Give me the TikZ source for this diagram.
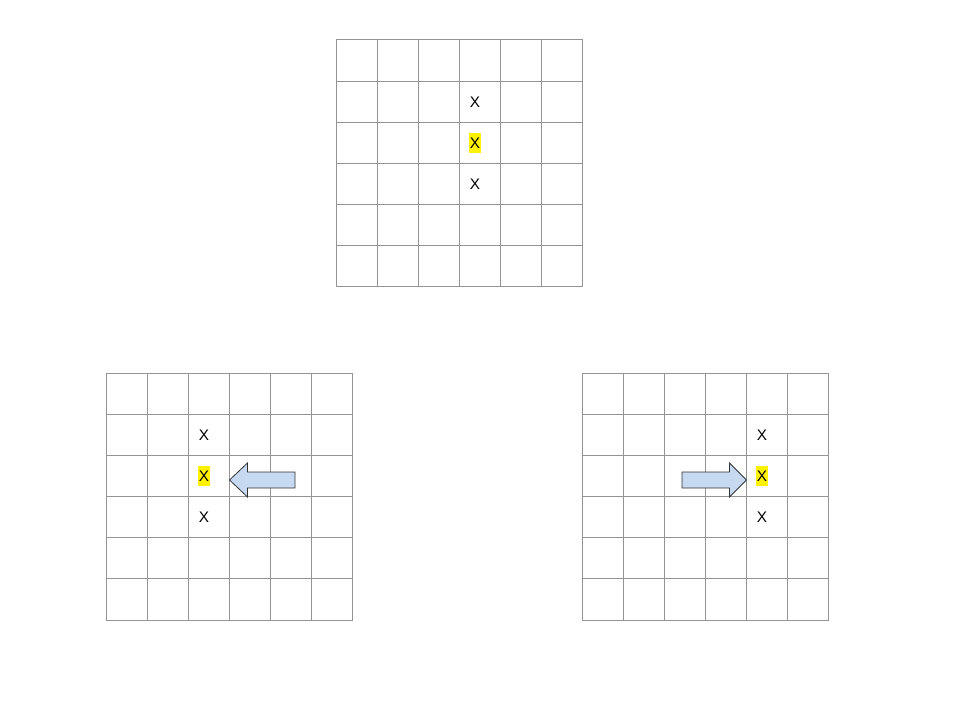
\documentclass[tikz,border=0pt]{standalone}
\usepackage{fontspec}
\setmainfont{Liberation Sans}
\begin{document}
\begin{tikzpicture}[x=0.75pt,y=-0.75pt,
  gridline/.style={draw=black!42,line width=0.75pt},
  xmark/.style={font=\fontsize{11.5}{13}\selectfont,inner sep=0pt,text height=8.3pt,text depth=0pt},
  xhl/.style={xmark,fill=yellow,inner xsep=0.8pt,minimum height=15.5pt},
  blockarrow/.style={draw=black!80,fill={rgb,255:red,198;green,217;blue,241},line width=0.6pt,line join=miter}]
\useasboundingbox (0,0) rectangle (960,720);
% grids
\draw[gridline] (336,40) rectangle (582,287);
\draw[gridline] (106,373) rectangle (352,620);
\draw[gridline] (582,373) rectangle (828,620);
\foreach \i in {1,...,5} {
  \draw[gridline] (336+41*\i,40) -- (336+41*\i,287);
  \draw[gridline] (336,40+41.17*\i) -- (582,40+41.17*\i);
  \draw[gridline] (106+41*\i,373) -- (106+41*\i,620);
  \draw[gridline] (106,373+41.17*\i) -- (352,373+41.17*\i);
  \draw[gridline] (582+41*\i,373) -- (582+41*\i,620);
  \draw[gridline] (582,373+41.17*\i) -- (828,373+41.17*\i);
}
% X marks
\node[xmark] (t1) at (475,102) {X};
\node[xhl]   (t2) at (475,143) {X};
\node[xmark] (t3) at (475,184) {X};
\node[xmark] (l1) at (204,435) {X};
\node[xhl]   (l2) at (204,476) {X};
\node[xmark] (l3) at (204,517) {X};
\node[xmark] (r1) at (762,435) {X};
\node[xhl]   (r2) at (762,476) {X};
\node[xmark] (r3) at (762,517) {X};
% arrows
\draw[blockarrow] (229.5,480) -- (247.5,463) -- (247.5,472) -- (295,472) -- (295,488) -- (247.5,488) -- (247.5,497) -- cycle;
\draw[blockarrow] (746.5,480) -- (729.5,463) -- (729.5,472) -- (682,472) -- (682,488) -- (729.5,488) -- (729.5,497) -- cycle;
\end{tikzpicture}
\end{document}
